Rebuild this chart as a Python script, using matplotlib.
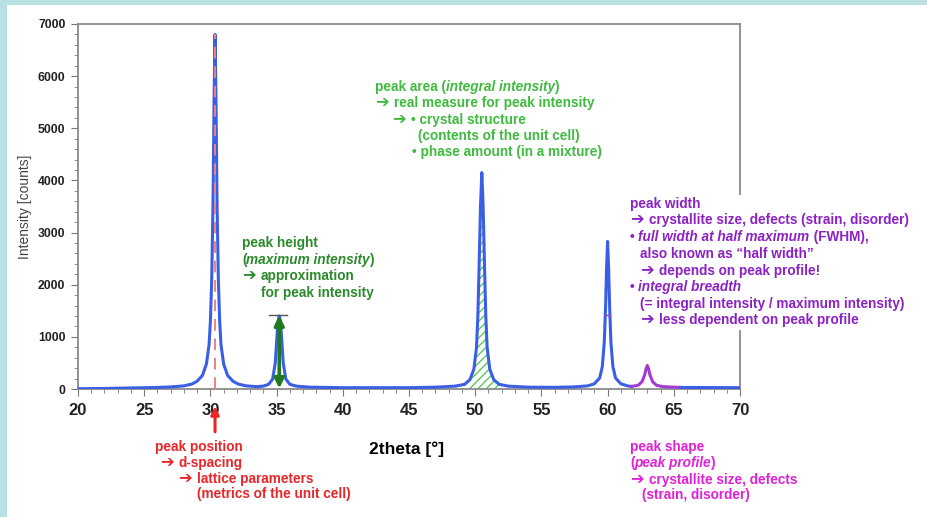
import matplotlib
matplotlib.use("Agg")
import matplotlib.pyplot as plt
from matplotlib.patches import Rectangle
from matplotlib.ticker import MultipleLocator

# diffraction pattern (2theta in deg, counts)
pattern_x = [20.0, 22.0, 24.0, 26.0, 27.0, 28.0, 28.6, 29.0, 29.4, 29.7, 29.9, 30.0,
             30.1, 30.2, 30.28, 30.35, 30.42, 30.5, 30.6, 30.7, 30.8, 31.0, 31.3, 31.7,
             32.1, 32.7, 33.5, 34.0, 34.4, 34.7, 34.9, 35.0, 35.1, 35.2, 35.3, 35.4,
             35.5, 35.7, 36.0, 36.5, 37.5, 40.0, 45.0, 47.0, 48.5, 49.2, 49.6, 49.9,
             50.1, 50.2, 50.3, 50.4, 50.5, 50.6, 50.7, 50.8, 50.9, 51.1, 51.4, 51.8,
             52.5, 54.0, 56.0, 57.5, 58.5, 59.0, 59.4, 59.6, 59.75, 59.85, 59.92, 60.0,
             60.08, 60.15, 60.25, 60.4, 60.6, 61.0, 61.5, 61.8]
pattern_y = [5, 10, 20, 30, 40, 60, 95, 150, 260, 480, 850, 1300,
             2100, 3600, 5600, 6800, 5600, 3600, 2100, 1300, 850, 480, 260, 150,
             95, 60, 45, 55, 90, 190, 500, 900, 1280, 1400, 1280, 900,
             500, 190, 90, 55, 35, 25, 25, 35, 55, 90, 180, 380,
             800, 1400, 2400, 3500, 4150, 3500, 2400, 1400, 800, 380, 180, 90,
             55, 35, 32, 40, 60, 100, 210, 430, 900, 1600, 2300, 2830,
             2300, 1600, 900, 430, 210, 100, 60, 50]
# small peak drawn in purple
profile_x = [61.8, 62.3, 62.6, 62.8, 62.9, 63.0, 63.1, 63.2, 63.4, 63.7, 64.2, 65.5]
profile_y = [50, 70, 140, 270, 380, 450, 380, 270, 140, 70, 45, 30]
tail_x = [65.5, 67.0, 70.0]
tail_y = [30, 28, 25]

peak_pos = 30.35
peak_pos_height = 6800
height_pos = 35.2
height_val = 1400
area_lo, area_hi = 49.2, 51.8
fwhm_lo, fwhm_hi, fwhm_y = 59.82, 60.18, 1415

W, H = 928, 517
fig = plt.figure(figsize=(W / 100, H / 100), dpi=100, facecolor="#b9e0e3")
fig.patches.append(Rectangle((7 / W, 0), 1, 1 - 5 / H, transform=fig.transFigure,
                             facecolor="white", edgecolor="none", zorder=-10))
ax = fig.add_axes([78 / W, 1 - 389 / H, (740 - 78) / W, (389 - 24) / H])

fam = ["Liberation Sans", "DejaVu Sans"]
blue = "#3a5fe5"
purple = "#a23ad6"

# hatched peak area
mask = [area_lo <= v <= area_hi for v in pattern_x]
ax.fill_between(pattern_x, 0, pattern_y, where=mask, facecolor="white",
                edgecolor="#5cc85c", hatch="////", linewidth=0, zorder=1)

ax.plot(pattern_x, pattern_y, color=blue, lw=2.2, zorder=3)
ax.plot(profile_x, profile_y, color=purple, lw=2.2, zorder=3)
ax.plot(tail_x, tail_y, color=blue, lw=2.2, zorder=3)

# peak position
ax.plot([peak_pos, peak_pos], [0, peak_pos_height], color="#f08080", lw=1.4,
        dashes=(6, 4), zorder=4)
ax.annotate("", xy=(peak_pos, -330), xytext=(peak_pos, -820),
            arrowprops=dict(arrowstyle="-|>", color="#e8262a", lw=2.2,
                            mutation_scale=12, shrinkA=0, shrinkB=0),
            annotation_clip=False)

# peak height
ax.plot([34.45, 35.8], [height_val + 20, height_val + 20], color="#555555", lw=1, zorder=4)
ax.annotate("", xy=(height_pos, height_val + 10), xytext=(height_pos, 10),
            arrowprops=dict(arrowstyle="<|-|>", color="#1f7a1f", lw=2.6,
                            mutation_scale=14, shrinkA=0, shrinkB=0), zorder=5)

# half width marker
ax.plot([fwhm_lo, fwhm_hi], [fwhm_y, fwhm_y], color=purple, lw=1, zorder=4)

ax.set_xlim(20, 70)
ax.set_ylim(0, 7000)
ax.xaxis.set_major_locator(MultipleLocator(5))
ax.xaxis.set_minor_locator(MultipleLocator(1))
ax.yaxis.set_major_locator(MultipleLocator(1000))
ax.yaxis.set_minor_locator(MultipleLocator(200))
ax.tick_params(axis="both", which="both", direction="out", color="#777777")
ax.tick_params(axis="both", which="major", length=5)
ax.tick_params(axis="both", which="minor", length=3)
ax.tick_params(axis="x", labelsize=12, pad=5)
ax.tick_params(axis="y", labelsize=8.8, pad=4)
for lab in ax.get_xticklabels() + ax.get_yticklabels():
    lab.set_fontweight("bold")
    lab.set_family(fam)
    lab.set_color("#222222")
for s in ax.spines.values():
    s.set_color("#8a8a8a")
    s.set_linewidth(1.3)

ax.set_xlabel("2theta [°]", fontsize=12.5, fontweight="bold", family=fam)
ax.xaxis.set_label_coords(0.497, -0.145)
ax.set_ylabel("Intensity [counts]", fontsize=10, family=fam, color="#444444")
ax.yaxis.set_label_coords(-0.07, 0.5)

# white box behind the purple notes
fig.patches.append(Rectangle((624 / W, 1 - 330 / H), 300 / W, 135 / H,
                             transform=fig.transFigure, facecolor="white",
                             edgecolor="none", zorder=2))

renderer = fig.canvas.get_renderer()


def line(x, y, runs, color, size=9.8):
    # runs: list of (text, italic); x, y are pixel positions (left, text middle)
    # arrows use the heavy DejaVu glyph, closer to the original's arrows
    xf = x / W
    for txt, it in runs:
        parts = txt.split("→ ")
        pieces = []
        for i, p in enumerate(parts):
            if i > 0:
                pieces.append(("➔", True))
            if p:
                pieces.append((p, False))
        for p, is_arrow in pieces:
            t = fig.text(xf, 1 - (y + 4) / H, p, color=color,
                         fontsize=size * (1.2 if is_arrow else 1.0),
                         fontweight="bold", style="italic" if it else "normal",
                         family="DejaVu Sans" if is_arrow else fam,
                         va="baseline", ha="left", zorder=5)
            xf = t.get_window_extent(renderer).x1 / W + (5 / W if is_arrow else 0)


green = "#3fbb3f"
line(375, 87, [("peak area (", 0), ("integral intensity", 1), (")", 0)], green)
line(375, 103, [("→ real measure for peak intensity", 0)], green)
line(392, 120, [("→ • crystal structure", 0)], green)
line(418, 136, [("(contents of the unit cell)", 0)], green)
line(412, 152, [("• phase amount (in a mixture)", 0)], green)

dgreen = "#2b8a2b"
line(242, 243, [("peak height", 0)], dgreen)
line(242, 260, [("(", 0), ("maximum intensity", 1), (")", 0)], dgreen)
line(242, 276, [("→ approximation", 0)], dgreen)
line(261, 293, [("for peak intensity", 0)], dgreen)

vio = "#8c22c4"
line(630, 204, [("peak width", 0)], vio)
line(630, 220, [("→ crystallite size, defects (strain, disorder)", 0)], vio)
line(630, 237, [("• ", 0), ("full width at half maximum", 1), (" (FWHM),", 0)], vio)
line(640, 254, [("also known as “half width”", 0)], vio)
line(640, 271, [("→ depends on peak profile!", 0)], vio)
line(630, 287, [("• ", 0), ("integral breadth", 1)], vio)
line(640, 304, [("(= integral intensity / maximum intensity)", 0)], vio)
line(640, 320, [("→ less dependent on peak profile", 0)], vio)

red = "#e8262a"
line(155, 447, [("peak position", 0)], red)
line(160, 463, [("→ d-spacing", 0)], red)
line(178, 479, [("→ lattice parameters", 0)], red)
line(197, 494, [("(metrics of the unit cell)", 0)], red)

mag = "#e021d6"
line(630, 447, [("peak shape", 0)], mag)
line(630, 463, [("(", 0), ("peak profile", 1), (")", 0)], mag)
line(630, 480, [("→ crystallite size, defects", 0)], mag)
line(642, 495, [("(strain, disorder)", 0)], mag)

fig.savefig("out.png", dpi=100, facecolor=fig.get_facecolor())
